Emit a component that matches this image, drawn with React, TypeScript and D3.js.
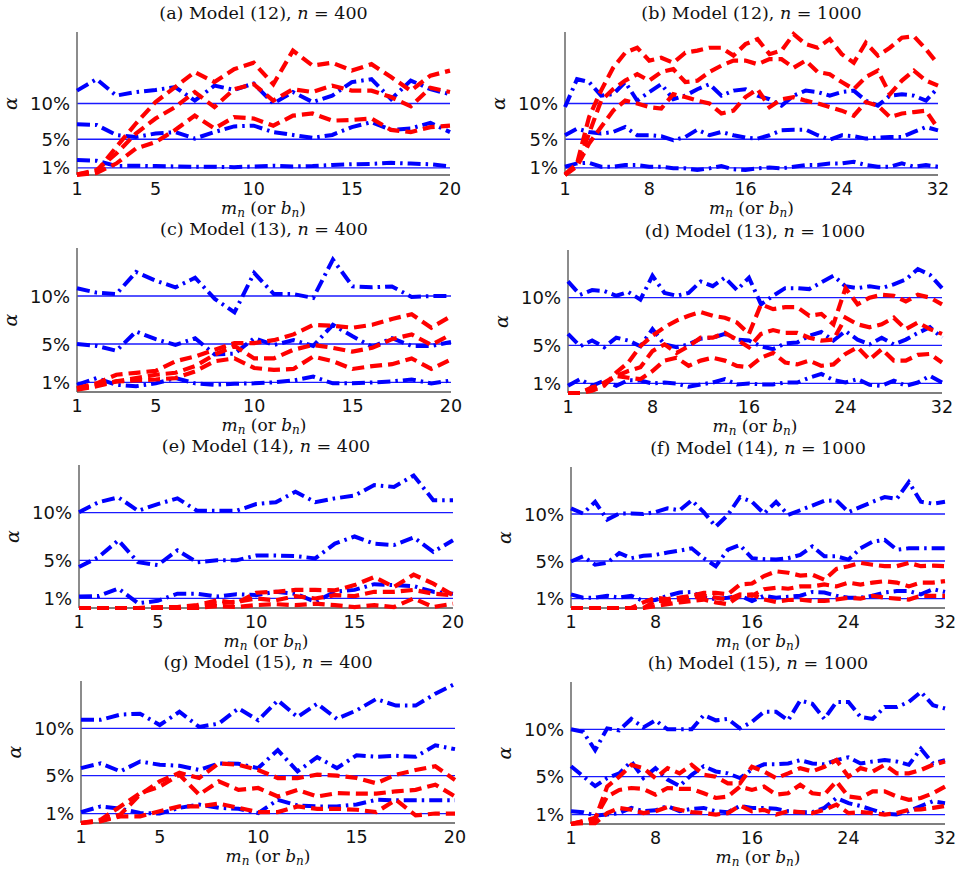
import React from "react"
import * as d3 from "d3"

const WIDTH = 956
const HEIGHT = 874

// x values (m_n or b_n)
const mn400 = [1, 2, 3, 4, 5, 6, 7, 8, 9, 10, 11, 12, 13, 14, 15, 16, 17, 18, 19, 20]
const mn1000 = [1, 2, 3, 4, 5, 6, 7, 8, 9, 10, 11, 12, 13, 14, 15, 16, 17, 18, 19, 20, 21, 22, 23, 24, 25, 26, 27, 28, 29, 30, 31, 32]
const ticks400 = [1, 5, 10, 15, 20]
const ticks1000 = [1, 8, 16, 24, 32]
const levelTicks = [1, 5, 10]
const levelLabels = ["1%", "5%", "10%"]

const panelLetters = ["a", "b", "c", "d", "e", "f", "g", "h"]
const panelModels = ["12", "12", "13", "13", "14", "14", "15", "15"]
const panelN = ["400", "1000", "400", "1000", "400", "1000", "400", "1000"]
const panelYMax = [20, 20, 15, 15, 15, 15, 15, 15]

// rejection rates (%), blue = dash-dot, red = dashed
const a_blue = [
  [11.8, 13.4, 11.1, 11.6, 11.9, 12.3, 10.4, 12.5, 11.9, 12.8, 10.0, 11.6, 10.2, 11.1, 13.0, 13.4, 10.6, 13.2, 12.0, 11.3],
  [7.1, 7.0, 5.6, 5.3, 5.8, 6.0, 5.1, 6.0, 6.8, 6.9, 6.0, 5.6, 5.2, 5.6, 6.7, 7.4, 6.3, 6.5, 7.3, 6.0],
  [2.1, 2.0, 1.25, 1.3, 1.25, 1.2, 1.15, 1.15, 1.1, 1.2, 1.3, 1.2, 1.25, 1.4, 1.5, 1.55, 1.7, 1.6, 1.5, 1.2],
]
const a_red = [
  [0.1, 0.5, 3.9, 7.2, 10.2, 12.3, 14.4, 13.0, 14.8, 15.7, 12.7, 17.4, 15.3, 15.7, 14.6, 15.5, 13.7, 11.8, 13.9, 14.6],
  [0.05, 0.7, 3.0, 5.8, 7.9, 9.5, 11.6, 9.5, 12.0, 12.7, 10.4, 12.0, 11.6, 12.5, 11.8, 11.8, 10.9, 9.6, 12.2, 11.6],
  [0, 0.3, 1.6, 3.7, 4.6, 6.3, 8.3, 6.5, 8.1, 7.9, 6.9, 8.3, 8.6, 7.6, 7.7, 7.9, 6.3, 6.0, 6.7, 6.9],
]
const b_blue = [
  [9.5, 13.4, 13.0, 11.1, 11.3, 13.0, 10.4, 11.6, 12.7, 10.6, 11.1, 12.0, 12.7, 11.1, 11.8, 12.0, 11.1, 10.6, 9.7, 11.1, 11.8, 11.6, 11.1, 11.6, 11.8, 10.4, 9.7, 11.1, 11.3, 11.1, 10.4, 12.2],
  [5.56, 6.48, 6.02, 5.79, 6.02, 6.71, 5.56, 5.56, 5.42, 4.86, 5.32, 6.34, 5.56, 6.02, 5.56, 5.23, 5.09, 5.56, 6.25, 6.34, 6.34, 5.56, 4.95, 5.56, 5.42, 5.09, 5.23, 5.32, 5.32, 6.02, 6.71, 6.25],
  [1.16, 1.62, 1.71, 1.16, 1.16, 1.39, 1.39, 1.16, 1.16, 0.93, 0.93, 0.69, 0.93, 1.25, 0.79, 0.69, 0.93, 1.06, 0.93, 1.16, 1.39, 1.39, 1.62, 1.62, 1.85, 1.39, 1.16, 1.16, 1.62, 1.16, 1.39, 1.16],
]
const b_red = [
  [0.1, 1.6, 8.1, 11.8, 15.0, 17.1, 17.8, 16.0, 16.4, 15.7, 17.1, 17.4, 17.8, 17.8, 16.7, 18.3, 19.0, 16.9, 17.4, 19.7, 18.3, 17.8, 19.0, 16.9, 15.7, 18.5, 16.7, 17.8, 19.2, 19.4, 17.6, 15.5],
  [0, 1.4, 5.8, 10.4, 12.0, 13.2, 14.1, 13.2, 14.4, 14.8, 13.0, 13.2, 14.4, 15.3, 16.0, 16.0, 15.5, 16.2, 16.2, 15.0, 16.0, 14.4, 14.1, 13.0, 12.0, 13.7, 14.6, 11.3, 13.2, 14.6, 13.2, 12.5],
  [0, 1.2, 4.4, 6.7, 9.0, 10.4, 10.0, 9.5, 9.3, 11.3, 10.9, 10.4, 10.0, 8.6, 9.0, 10.9, 12.0, 9.5, 10.6, 10.9, 10.4, 10.0, 9.5, 9.0, 8.3, 10.2, 9.7, 8.1, 8.6, 8.8, 9.0, 6.5],
]
const c_blue = [
  [10.8, 10.35, 10.2, 12.5, 11.6, 10.9, 11.9, 9.7, 8.3, 12.4, 10.2, 10.2, 9.8, 13.8, 11.0, 10.9, 11.0, 9.9, 10.0, 10.0],
  [5.0, 4.8, 4.3, 6.3, 5.5, 4.9, 5.6, 3.9, 4.0, 5.6, 4.9, 5.4, 4.8, 7.0, 5.8, 4.7, 5.6, 4.8, 4.8, 5.2],
  [0.75, 1.45, 0.75, 0.6, 0.9, 1.45, 0.9, 0.75, 0.85, 0.9, 1.0, 1.2, 1.6, 0.9, 0.9, 1.0, 1.1, 1.3, 0.9, 1.2],
]
const c_red = [
  [0.4, 0.9, 1.8, 2.0, 2.2, 3.2, 3.7, 4.4, 5.1, 5.1, 5.4, 6.0, 7.0, 6.9, 6.7, 7.0, 7.6, 8.1, 6.7, 7.9],
  [0.35, 0.75, 1.1, 1.45, 1.8, 2.0, 2.7, 3.9, 4.8, 3.5, 3.5, 4.4, 4.9, 4.6, 4.2, 4.6, 5.5, 6.0, 4.9, 6.0],
  [0.25, 0.6, 1.1, 1.2, 1.3, 1.45, 2.15, 3.2, 3.5, 2.5, 2.3, 2.4, 3.7, 3.2, 2.4, 2.7, 2.9, 3.5, 2.4, 3.4],
]
const d_blue = [
  [11.7, 10.3, 10.8, 10.7, 10.2, 10.6, 9.8, 12.3, 10.5, 10.2, 10.5, 11.7, 11.2, 12.1, 10.8, 12.1, 9.3, 10.2, 11.0, 11.0, 10.9, 11.6, 12.3, 11.2, 11.0, 11.2, 11.0, 11.4, 11.9, 13.0, 12.4, 11.0],
  [6.2, 4.9, 5.5, 4.8, 5.8, 5.5, 4.9, 6.7, 5.1, 4.8, 5.1, 5.7, 5.8, 6.2, 5.6, 5.5, 4.9, 4.6, 5.2, 5.3, 6.0, 6.4, 5.5, 6.5, 5.6, 5.1, 5.8, 5.1, 5.6, 6.3, 6.9, 5.8],
  [0.75, 1.45, 0.75, 1.3, 0.75, 1.35, 1.3, 1.0, 1.1, 1.0, 0.65, 0.9, 1.1, 1.45, 0.9, 1.0, 0.9, 0.9, 1.1, 1.1, 1.6, 2.0, 1.35, 1.1, 1.45, 0.85, 0.75, 1.3, 0.75, 1.1, 1.8, 1.1],
]
const d_red = [
  [0, 0, 0.25, 0.75, 2.15, 3.2, 4.9, 6.0, 6.9, 7.6, 8.1, 8.5, 8.1, 7.9, 7.4, 6.2, 9.3, 8.8, 9.0, 9.0, 8.1, 8.3, 7.2, 11.0, 9.3, 10.0, 10.3, 10.2, 9.6, 10.3, 10.0, 9.3],
  [0, 0, 0.4, 1.1, 1.8, 2.3, 2.7, 4.4, 5.1, 4.2, 4.9, 5.8, 5.8, 6.3, 5.6, 4.8, 6.2, 6.6, 6.3, 6.3, 5.8, 5.5, 5.6, 7.9, 7.2, 6.9, 7.2, 7.9, 6.7, 7.4, 6.7, 6.2],
  [0, 0, 0.6, 0.9, 1.8, 1.6, 1.45, 2.3, 3.4, 3.7, 2.85, 3.4, 3.7, 3.4, 2.85, 2.7, 3.7, 4.2, 3.2, 3.0, 3.4, 2.85, 3.0, 4.1, 4.8, 3.5, 4.6, 3.4, 3.4, 4.0, 4.1, 3.2],
]
const e_blue = [
  [10.05, 11.1, 11.6, 10.2, 10.9, 11.5, 10.2, 10.2, 10.2, 10.9, 11.1, 12.2, 11.1, 11.5, 11.8, 12.9, 12.7, 13.9, 11.3, 11.3],
  [4.3, 5.35, 7.1, 4.8, 4.5, 6.05, 4.8, 5.0, 5.0, 5.5, 5.5, 5.45, 5.2, 6.75, 7.5, 6.75, 6.6, 7.4, 5.9, 7.1],
  [1.2, 1.25, 2.05, 0.5, 0.75, 1.5, 1.5, 1.2, 1.45, 1.35, 1.7, 1.5, 0.65, 1.7, 1.9, 2.5, 2.4, 2.3, 1.7, 1.5],
]
const e_red = [
  [0, 0, 0, 0, 0.1, 0.1, 0.3, 0.8, 0.5, 1.6, 1.7, 1.9, 1.9, 1.85, 2.4, 3.25, 2.2, 3.5, 2.55, 1.35],
  [0, 0, 0, 0, 0, 0, 0.1, 0.5, 0.65, 1.0, 0.8, 1.25, 1.0, 1.35, 1.25, 1.7, 1.7, 1.9, 1.5, 1.35],
  [0, 0, 0, 0, 0, 0, 0, 0.2, 0.1, 0.3, 0.4, 0.3, 0.45, 0.3, 0.1, 0.3, 0.1, 1.0, 0.1, 0.45],
]
const f_blue = [
  [10.6, 10.05, 11.3, 9.4, 10.05, 10.05, 10.0, 10.2, 10.6, 10.4, 11.45, 10.2, 8.65, 9.9, 11.8, 11.3, 10.05, 11.3, 9.9, 10.4, 10.9, 11.4, 11.45, 10.2, 10.75, 11.3, 11.8, 11.6, 13.4, 11.3, 11.1, 11.3],
  [4.95, 5.5, 4.6, 4.8, 5.85, 5.3, 5.55, 5.65, 5.9, 6.1, 6.35, 5.3, 4.45, 6.2, 6.7, 5.3, 5.2, 5.15, 5.3, 5.65, 6.55, 5.5, 5.5, 5.15, 6.35, 7.05, 7.25, 6.2, 6.35, 6.35, 6.35, 6.35],
  [1.45, 1.1, 1.1, 1.3, 1.1, 1.3, 0.75, 0.85, 1.3, 1.65, 1.7, 1.1, 0.95, 1.1, 1.3, 0.75, 1.3, 1.1, 1.2, 1.3, 1.7, 1.65, 1.3, 1.1, 1.1, 1.3, 1.65, 1.8, 1.8, 1.45, 2.0, 1.7],
]
const f_red = [
  [0, 0, 0, 0, 0, 0, 0.6, 1.1, 0.95, 1.1, 1.3, 1.6, 1.6, 1.45, 2.5, 2.6, 3.4, 3.9, 3.75, 3.45, 3.55, 3.0, 4.15, 4.45, 4.8, 4.6, 4.45, 4.45, 4.8, 4.45, 4.5, 4.45],
  [0, 0, 0, 0, 0, 0, 0, 0.75, 0.75, 0.9, 1.1, 1.3, 1.1, 0.9, 1.45, 1.3, 2.0, 2.15, 2.05, 2.3, 2.3, 2.5, 2.3, 2.7, 2.5, 2.7, 2.85, 2.7, 2.3, 2.7, 2.7, 2.85],
  [0, 0, 0, 0, 0, 0, 0, 0.2, 0.4, 0.6, 0.75, 0.9, 0.6, 0.4, 1.3, 1.45, 0.9, 0.65, 0.85, 0.9, 0.75, 0.75, 0.9, 1.1, 1.0, 1.3, 1.1, 1.0, 0.9, 1.3, 1.3, 1.3],
]
const g_blue = [
  [10.9, 10.9, 11.45, 11.55, 10.35, 11.75, 10.15, 10.5, 12.1, 10.85, 12.95, 11.2, 12.6, 11.0, 11.9, 13.1, 12.4, 12.4, 13.65, 14.7],
  [5.8, 6.3, 5.45, 6.5, 6.15, 6.05, 5.6, 6.3, 6.25, 5.8, 7.7, 5.45, 6.95, 5.8, 7.15, 7.0, 7.1, 7.0, 8.2, 7.8],
  [1.15, 1.75, 1.5, 1.05, 1.0, 1.6, 1.95, 1.6, 1.5, 1.05, 2.45, 1.85, 1.75, 1.75, 1.95, 2.45, 2.4, 2.4, 2.4, 2.4],
]
const g_red = [
  [0, 0.2, 0.9, 3.0, 4.4, 5.3, 4.75, 6.3, 6.15, 5.6, 4.75, 4.75, 5.1, 5.0, 4.75, 4.2, 5.1, 5.6, 6.0, 4.55],
  [0, 0.35, 1.75, 3.15, 3.85, 5.1, 3.0, 4.4, 3.5, 3.7, 2.8, 3.5, 2.8, 3.15, 3.1, 3.1, 3.35, 3.5, 4.05, 2.8],
  [0, 0.2, 0.7, 0.7, 1.25, 1.75, 1.75, 2.05, 1.6, 1.15, 1.15, 1.75, 1.5, 1.5, 1.4, 1.15, 2.45, 0.8, 1.0, 1.0],
]
const h_blue = [
  [10.0, 9.75, 7.8, 10.1, 9.9, 11.1, 10.2, 10.95, 10.0, 10.0, 10.0, 11.5, 10.95, 11.1, 10.1, 10.8, 11.85, 11.85, 10.95, 13.05, 12.7, 11.1, 12.9, 12.9, 11.3, 11.1, 12.35, 12.35, 12.9, 13.95, 12.55, 12.2],
  [6.1, 5.05, 4.0, 4.85, 5.35, 6.6, 4.85, 5.9, 4.7, 4.0, 5.2, 6.1, 5.55, 5.35, 4.85, 5.75, 6.3, 6.3, 6.4, 6.75, 6.4, 6.3, 6.75, 7.05, 6.4, 6.6, 6.75, 6.6, 6.25, 7.95, 6.4, 6.75],
  [1.35, 1.25, 0.9, 1.0, 1.15, 1.7, 1.35, 1.45, 1.9, 1.35, 1.6, 1.7, 1.35, 1.25, 1.9, 1.7, 1.7, 1.6, 1.35, 1.25, 1.25, 1.7, 2.75, 2.2, 1.9, 1.5, 1.1, 1.0, 1.35, 1.9, 2.4, 2.2],
]
const h_red = [
  [0, 0.3, 0.5, 3.95, 5.0, 6.25, 5.9, 4.85, 5.9, 5.35, 6.25, 5.2, 5.0, 4.3, 4.3, 6.05, 5.55, 4.85, 5.35, 5.9, 5.55, 6.05, 6.75, 5.0, 5.9, 5.55, 6.25, 5.35, 5.35, 5.7, 6.25, 6.6],
  [0, 0.3, 0.65, 2.9, 3.6, 3.8, 3.7, 3.1, 3.8, 3.7, 3.7, 3.25, 2.75, 2.9, 3.95, 3.6, 3.95, 3.1, 3.25, 4.15, 3.25, 3.1, 4.5, 2.9, 2.75, 3.45, 3.45, 2.9, 2.55, 2.75, 3.25, 3.95],
  [0, 0.1, 0.1, 1.15, 1.7, 1.5, 1.15, 1.35, 1.8, 1.5, 1.25, 1.15, 1.0, 1.15, 1.95, 1.35, 1.5, 1.0, 1.35, 1.25, 1.15, 1.5, 2.05, 1.15, 1.25, 1.15, 1.0, 1.15, 1.5, 1.55, 1.7, 1.9],
]

const blueSets = [a_blue, b_blue, c_blue, d_blue, e_blue, f_blue, g_blue, h_blue]
const redSets = [a_red, b_red, c_red, d_red, e_red, f_red, g_red, h_red]

// plot box of each panel (the scan is a little skewed, so each has its own)
const frames = [
  { left: 77, top: 32, w: 373, h: 143 },
  { left: 565, top: 32, w: 373, h: 143 },
  { left: 77, top: 248, w: 374, h: 144 },
  { left: 568, top: 250, w: 374, h: 143 },
  { left: 79, top: 465, w: 374, h: 143 },
  { left: 571, top: 467, w: 374, h: 141 },
  { left: 81, top: 681, w: 374, h: 142 },
  { left: 571, top: 682, w: 374, h: 142 },
]

const SERIF = "'DejaVu Serif', serif"
const SANS = "'DejaVu Sans', sans-serif"

function Panel({ idx }: { idx: number }) {
  const fr = frames[idx]
  const wide = idx % 2 === 1
  const xs = wide ? mn1000 : mn400
  const xTicks = wide ? ticks1000 : ticks400
  const x = d3.scaleLinear().domain([xs[0], xs[xs.length - 1]]).range([fr.left, fr.left + fr.w])
  const y = d3.scaleLinear().domain([0, panelYMax[idx]]).range([fr.top + fr.h, fr.top])
  const line = d3
    .line<number>()
    .x((_, i) => x(xs[i]))
    .y((d) => y(d))
  const bottom = fr.top + fr.h
  const cx = fr.left + fr.w / 2

  return (
    <g>
      {/* title */}
      <text x={cx} y={fr.top - 13} textAnchor="middle" fontFamily={SERIF} fontSize={17.5} fill="#111">
        ({panelLetters[idx]}) Model ({panelModels[idx]}),{" "}
        <tspan fontStyle="italic">n</tspan> = {panelN[idx]}
      </text>

      {/* reference levels */}
      {levelTicks.map((v) => (
        <line key={v} x1={fr.left} x2={fr.left + fr.w} y1={y(v)} y2={y(v)} stroke="#1a1aff" strokeWidth={1.3} />
      ))}

      {/* axes */}
      <line x1={fr.left} x2={fr.left} y1={fr.top} y2={bottom} stroke="#666" strokeWidth={1.5} />
      <line x1={fr.left} x2={fr.left + fr.w} y1={bottom} y2={bottom} stroke="#555" strokeWidth={1.5} />

      {/* series */}
      {blueSets[idx].map((s, i) => (
        <path key={"b" + i} d={line(s) || ""} fill="none" stroke="#0000ff" strokeWidth={4}
          strokeDasharray="13,5,2.5,5" />
      ))}
      {redSets[idx].map((s, i) => (
        <path key={"r" + i} d={line(s) || ""} fill="none" stroke="#ff0000" strokeWidth={4.2}
          strokeDasharray="12,6" />
      ))}

      {/* y tick labels */}
      {levelTicks.map((v, i) => (
        <text key={v} x={fr.left - 7} y={y(v) + 6.5} textAnchor="end" fontFamily={SANS} fontSize={18} fill="#111">
          {levelLabels[i]}
        </text>
      ))}
      <text
        transform={`translate(${fr.left - 60},${fr.top + fr.h / 2}) rotate(-90)`}
        textAnchor="middle"
        fontFamily={SERIF}
        fontStyle="italic"
        fontSize={19}
        fill="#111"
      >
        α
      </text>

      {/* x tick labels */}
      {xTicks.map((t) => (
        <text key={t} x={x(t)} y={bottom + 20} textAnchor="middle" fontFamily={SANS} fontSize={17.5} fill="#111">
          {t}
        </text>
      ))}
      <text x={cx} y={bottom + 39} textAnchor="middle" fontFamily={SERIF} fontSize={17} fill="#111">
        <tspan fontStyle="italic">m</tspan>
        <tspan fontStyle="italic" fontSize={12} dy={3}>n</tspan>
        <tspan dy={-3}> (or </tspan>
        <tspan fontStyle="italic">b</tspan>
        <tspan fontStyle="italic" fontSize={12} dy={3}>n</tspan>
        <tspan dy={-3}>)</tspan>
      </text>
    </g>
  )
}

export default function App() {
  return (
    <svg
      width={WIDTH}
      height={HEIGHT}
      style={{ position: "absolute", left: 0, top: 0, background: "#fff" }}
    >
      {panelLetters.map((_, i) => (
        <Panel key={i} idx={i} />
      ))}
    </svg>
  )
}
